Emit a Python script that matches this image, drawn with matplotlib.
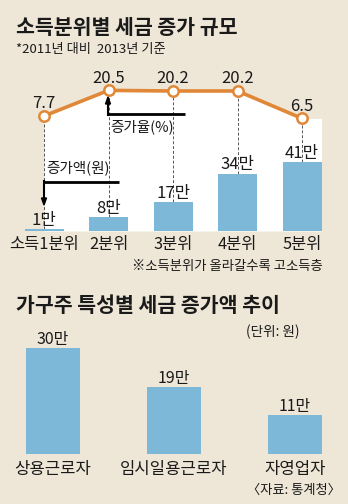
import matplotlib
matplotlib.use("Agg")
import matplotlib.pyplot as plt
import numpy as np

plt.rcParams['font.family'] = ['Noto Sans CJK KR', 'DejaVu Sans']

# ---- data ----
top_title = "소득분위별 세금 증가 규모"
top_subtitle = "*2011년 대비  2013년 기준"
quintiles = ["소득1분위", "2분위", "3분위", "4분위", "5분위"]
increase_amount = [1, 8, 17, 34, 41]          # 만원
amount_labels = ["1만", "8만", "17만", "34만", "41만"]
increase_rate = [7.7, 20.5, 20.2, 20.2, 6.5]  # %
rate_labels = ["7.7", "20.5", "20.2", "20.2", "6.5"]
top_note = "※소득분위가 올라갈수록 고소득층"

bottom_title = "가구주 특성별 세금 증가액 추이"
bottom_unit = "(단위: 원)"
household = ["상용근로자", "임시일용근로자", "자영업자"]
household_amount = [30, 19, 11]
household_labels = ["30만", "19만", "11만"]
source = "〈자료: 통계청〉"

# ---- style ----
BG = "#EEE7D8"
BAR = "#7DB8D8"
ORANGE = "#E08838"
TXT = "#1a1a1a"

W, H = 348, 504
fig = plt.figure(figsize=(W / 100, H / 100), dpi=100)
fig.patch.set_facecolor(BG)


def fx(x):
    return x / W


def fy(y):
    return 1 - y / H


# top chart axes: category i at pixel 44 + 64.5*i, baseline at y=231 (from top)
step = 64.5
left = 44 - step / 2
base_top = 231
ax_top_px = 60
ax = fig.add_axes([fx(left), fy(base_top), 5 * step / W, (base_top - ax_top_px) / H])
ax.set_xlim(-0.5, 4.5)
bar_scale = 1.69
ax.set_ylim(0, (base_top - ax_top_px) / bar_scale)
ax.axis("off")
ax.patch.set_alpha(0)

ax2 = ax.twinx()
ax2.axis("off")
rate_scale = 2.0
y_px_77 = 116
lo = 7.7 - (base_top - y_px_77) / rate_scale
hi = 7.7 + (y_px_77 - ax_top_px) / rate_scale
ax2.set_ylim(lo, hi)
ax2.set_xlim(-0.5, 4.5)

x = np.arange(len(quintiles))
bw = 39 / step

# white area under the line
fill_x = list(x) + [x[-1] + bw / 2]
fill_y = list(increase_rate) + [increase_rate[-1]]
ax2.fill_between(fill_x, fill_y, lo, color="white", zorder=0, lw=0)

ax.bar(x, increase_amount, width=bw, color=BAR, zorder=2)
ax.set_zorder(ax2.get_zorder() + 1)

# dashed lines from points to bars
for i, (a, r) in enumerate(zip(increase_amount, increase_rate)):
    disp = ax2.transData.transform((i, r))
    ytop = ax.transData.inverted().transform(disp)[1]
    ax.plot([i, i], [a, ytop], color="#555555", lw=0.7, ls=(0, (3, 2)), zorder=1)

# line (rate axis values converted to the bar axis)
line_y = [ax.transData.inverted().transform(ax2.transData.transform((i, r)))[1]
          for i, r in enumerate(increase_rate)]
ax.plot(x, line_y, color=ORANGE, lw=2.6, zorder=4, solid_joinstyle="round")
ax.plot(x, line_y, ls="none", marker="o", ms=7.5, mfc="white", mec=ORANGE,
        mew=1.8, zorder=5)

for i, (yy, lab) in enumerate(zip(line_y, rate_labels)):
    ax.annotate(lab, (i, yy), xytext=(0, 5.5), textcoords="offset points",
                ha="center", va="baseline", fontsize=12, color=TXT, zorder=6)

for i, (a, lab) in enumerate(zip(increase_amount, amount_labels)):
    ax.annotate(lab, (i, a), xytext=(0, 3), textcoords="offset points",
                ha="center", va="baseline", fontsize=12, color=TXT, zorder=6)

for i, lab in enumerate(quintiles):
    ax.annotate(lab, (i, 0), xytext=(0, -3.5), textcoords="offset points",
                ha="center", va="top", fontsize=11.8, color=TXT)

# titles
fig.text(fx(16), fy(28), top_title, fontsize=14.8, fontweight="bold",
         va="center", ha="left", color=TXT)
fig.text(fx(16), fy(50), top_subtitle, fontsize=9.5, va="center", ha="left",
         color=TXT)
fig.text(fx(323), fy(266), top_note, fontsize=9.6, va="center", ha="right",
         color=TXT)

# L-shaped arrows
lw_arrow = 2.0
fig.add_artist(plt.Line2D([fx(107), fx(185)], [fy(114), fy(114)],
                          color="black", lw=lw_arrow, solid_capstyle="butt"))
fig.add_artist(plt.Line2D([fx(108), fx(108)], [fy(115), fy(103)],
                          color="black", lw=1.5))
fig.patches.append(plt.Polygon([[fx(105.5), fy(104)], [fx(110.5), fy(104)],
                                [fx(108), fy(97)]], closed=True, color="black",
                               transform=fig.transFigure, figure=fig))
fig.text(fx(110), fy(127), "증가율(%)", fontsize=10.5, va="center", ha="left",
         color=TXT)

fig.add_artist(plt.Line2D([fx(43), fx(119)], [fy(182), fy(182)],
                          color="black", lw=lw_arrow, solid_capstyle="butt"))
fig.add_artist(plt.Line2D([fx(44), fx(44)], [fy(181), fy(199)],
                          color="black", lw=1.5))
fig.patches.append(plt.Polygon([[fx(41.5), fy(198)], [fx(46.5), fy(198)],
                                [fx(44), fy(205)]], closed=True, color="black",
                               transform=fig.transFigure, figure=fig))
fig.text(fx(46), fy(168), "증가액(원)", fontsize=10.5, va="center", ha="left",
         color=TXT)

# bottom chart: category i at pixel 53 + 121*i, baseline at y=454.3
bstep = 121
bbase = 454.3
btop = 320
bx = fig.add_axes([0, fy(bbase), 1, (bbase - btop) / H])
bx.set_xlim((0 - 53) / bstep, (W - 53) / bstep)
bscale = 3.53
bx.set_ylim(0, (bbase - btop) / bscale)
bx.axis("off")
bx.patch.set_alpha(0)
xb = np.arange(len(household))
bx.bar(xb, household_amount, width=54 / bstep, color=BAR, zorder=2)
for i, (a, lab) in enumerate(zip(household_amount, household_labels)):
    bx.annotate(lab, (i, a), xytext=(0, 3), textcoords="offset points",
                ha="center", va="baseline", fontsize=11.5, color=TXT)
for i, lab in enumerate(household):
    bx.annotate(lab, (i, 0), xytext=(0, -5), textcoords="offset points",
                ha="center", va="top", fontsize=12, color=TXT)

fig.text(fx(16), fy(306), bottom_title, fontsize=14.8, fontweight="bold",
         va="center", ha="left", color=TXT)
fig.text(fx(300), fy(332), bottom_unit, fontsize=9.8, va="center", ha="right",
         color=TXT)
fig.text(fx(341), fy(490), source, fontsize=9.5, va="center", ha="right",
         color=TXT)

fig.savefig("out.png", dpi=100, facecolor=BG)
